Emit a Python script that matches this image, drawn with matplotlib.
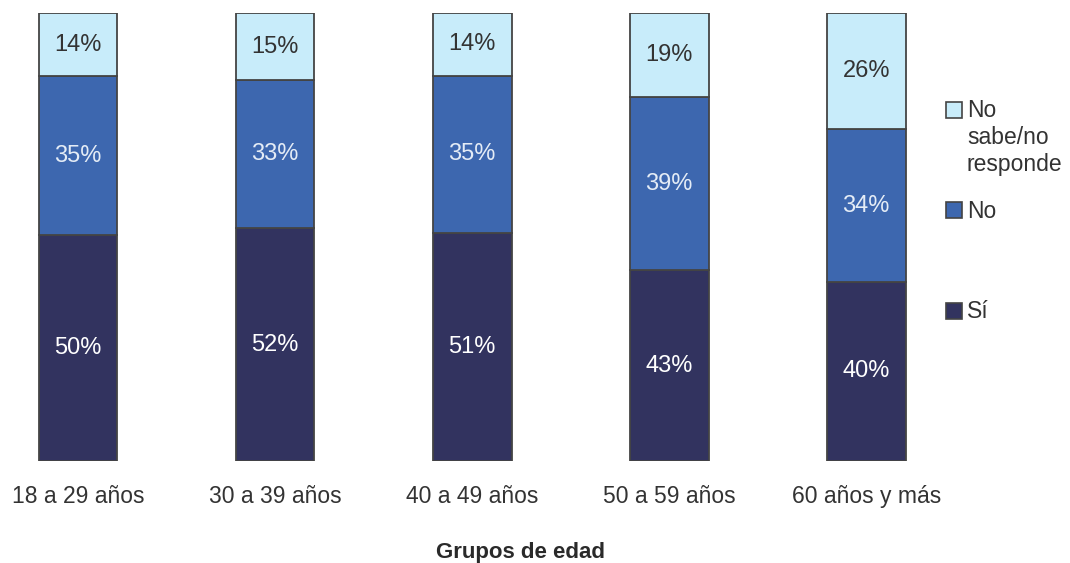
import numpy as np
import matplotlib.pyplot as plt
from matplotlib.patches import Rectangle

plt.rcParams['font.family'] = ['Liberation Sans', 'DejaVu Sans']

# ---- datos ----
grupos = ["18 a 29 años", "30 a 39 años", "40 a 49 años", "50 a 59 años", "60 años y más"]
si = [50, 52, 51, 43, 40]
no = [35, 33, 35, 39, 34]
nsnr = [14, 15, 14, 19, 26]
series_labels = ["Sí", "No", "No\nsabe/no\nresponde"]

colores = ["#32335f", "#3d67af", "#c8ecfa"]
txt_colores = ["white", "#e4ecf6", "#333333"]

fig = plt.figure(figsize=(10.7, 5.63), dpi=100)
ax = fig.add_axes([0, 0.181, 0.86, 0.796])

x = np.arange(len(grupos))
datos = np.array([si, no, nsnr], dtype=float)
tot = datos.sum(axis=0)
frac = datos / tot  # barras al 100%

bottom = np.zeros(len(grupos))
for i in range(3):
    ax.bar(x, frac[i], 0.4, bottom=bottom, color=colores[i],
           edgecolor="#444444", linewidth=1.3)
    for j in range(len(grupos)):
        ax.text(x[j], bottom[j] + frac[i][j] / 2, f"{int(datos[i][j])}%",
                ha="center", va="center", fontsize=17, color=txt_colores[i])
    bottom += frac[i]

ax.set_xlim(-0.396, 4.274)
ax.set_ylim(0, 1)
for s in ax.spines.values():
    s.set_visible(False)
ax.set_yticks([])
ax.set_xticks(x)
ax.set_xticklabels(grupos, fontsize=16.5, color="#333333")
ax.tick_params(axis="x", length=0, pad=17)
ax.set_xlabel("Grupos de edad", fontsize=16, fontweight="bold", color="#2a2a2a")
ax.xaxis.set_label_coords(520 / 920, -0.18)

# leyenda manual (coordenadas en pixeles de figura)
W, H = 1070, 563
caja_y = [311, 210, 109.5]
for i in range(3):
    yc = caja_y[i]
    fig.add_artist(Rectangle((946 / W, 1 - (yc + 8) / H), 16 / W, 16 / H,
                             transform=fig.transFigure, facecolor=colores[i],
                             edgecolor="#444444", linewidth=1.2))
    for k, linea in enumerate(series_labels[i].split("\n")):
        fig.text(967 / W, 1 - (yc + 7.5 + 27 * k) / H, linea, fontsize=16.5,
                 color="#333333", va="baseline", ha="left")

fig.savefig("out.png", dpi=100)
